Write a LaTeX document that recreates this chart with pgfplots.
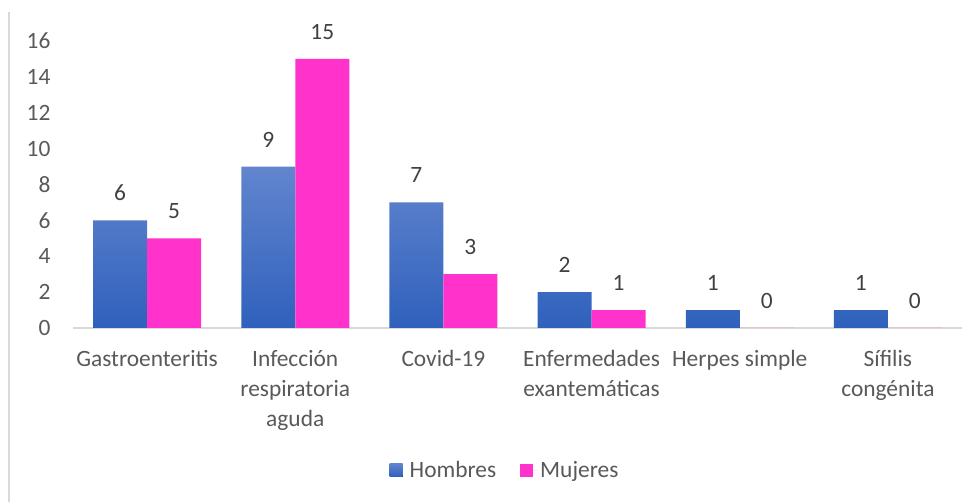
\documentclass[border=0pt]{standalone}
\usepackage{pgfplots}
\pgfplotsset{compat=1.18}
\usepackage{fontspec}
\setmainfont{Carlito}
\definecolor{blueTop}{RGB}{98,133,206}
\definecolor{blueBot}{RGB}{47,97,188}
\definecolor{pinkC}{RGB}{255,51,204}
\definecolor{axisG}{RGB}{217,217,217}
\definecolor{tickC}{RGB}{89,89,89}
\definecolor{labC}{RGB}{64,64,64}
\begin{document}
\begin{tikzpicture}
\useasboundingbox (0pt,0pt) rectangle (976pt,502pt);
\draw[axisG, line width=1.5pt] (9pt,490pt) -- (9pt,0pt);
\begin{axis}[
  at={(73pt,174pt)}, anchor=south west,
  scale only axis, width=889pt, height=287pt,
  ybar=0pt, bar width=54pt,
  xmin=-0.5, xmax=5.5, ymin=0, ymax=16,
  ytick={0,2,...,16},
  xtick=data,
  xticklabels={Gastroenteritis, Infección\\respiratoria\\aguda, Covid-19, Enfermedades\\exantemáticas, Herpes simple, Sífilis\\congénita},
  axis x line*=bottom, axis y line*=left,
  x axis line style={axisG, line width=1.5pt, -},
  y axis line style={draw=none},
  major tick length=0pt,
  every tick label/.append style={font=\fontsize{23.4}{30}\selectfont, text=tickC},
  yticklabel style={anchor=east, xshift=-19pt},
  xticklabel style={anchor=north, align=center, yshift=-19pt},
  /pgf/number format/assume math mode=true,
  nodes near coords,
  every node near coord/.append style={font=\fontsize{23.4}{30}\selectfont, text=labC, yshift=16pt},
  legend style={at={(0.486,-0.495)}, anchor=center, draw=none, legend columns=2,
    font=\fontsize{23.4}{30}\selectfont, text=tickC,
    /tikz/every even column/.append style={column sep=22pt}},
  legend image code/.code={\fill[#1] (0pt,-6.5pt) rectangle (13pt,6.5pt); \path (0pt,0pt) -- (18pt,0pt);},
]
\addplot[draw=none, top color=blueTop, bottom color=blueBot] coordinates {(0,6) (1,9) (2,7) (3,2) (4,1) (5,1)};
\addplot[draw=none, fill=pinkC] coordinates {(0,5) (1,15) (2,3) (3,1) (4,0) (5,0)};
\legend{Hombres, Mujeres}
\end{axis}
\end{tikzpicture}
\end{document}
